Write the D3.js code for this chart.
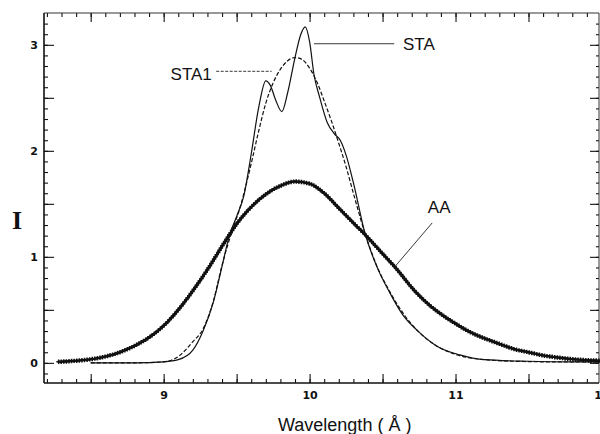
<!DOCTYPE html>
<html>
<head>
<meta charset="utf-8">
<script src="https://cdn.jsdelivr.net/npm/d3@7"></script>
<style>
  body { margin: 0; background: #fff; }
  svg { display: block; }
</style>
</head>
<body>
<div id="chart"></div>
<script>
// values (wavelength in Å, intensity I)
const aaData = [
  [8.28, 0.01], [8.4, 0.02], [8.55, 0.045], [8.7, 0.1], [8.8, 0.16], [8.9, 0.24],
  [9.0, 0.35], [9.1, 0.5], [9.2, 0.68], [9.3, 0.88], [9.4, 1.1], [9.47, 1.25],
  [9.5, 1.31], [9.6, 1.47], [9.7, 1.59], [9.8, 1.67], [9.9, 1.71], [10.0, 1.69],
  [10.1, 1.6], [10.2, 1.46], [10.3, 1.32], [10.38, 1.21], [10.5, 1.03], [10.6, 0.88],
  [10.7, 0.71], [10.8, 0.57], [10.9, 0.46], [11.0, 0.37], [11.1, 0.29], [11.2, 0.23],
  [11.3, 0.18], [11.4, 0.13], [11.5, 0.1], [11.6, 0.07], [11.7, 0.05], [11.8, 0.035],
  [11.9, 0.025], [12.0, 0.02]
];

const staData = [
  [8.5, 0.0], [8.8, 0.0], [9.0, 0.01], [9.1, 0.03], [9.2, 0.12], [9.27, 0.3],
  [9.34, 0.57], [9.4, 0.91], [9.45, 1.2], [9.5, 1.38], [9.55, 1.58], [9.6, 1.97],
  [9.65, 2.4], [9.7, 2.66], [9.73, 2.62], [9.77, 2.47], [9.81, 2.37], [9.85, 2.55],
  [9.9, 2.88], [9.94, 3.1], [9.97, 3.17], [10.0, 3.03], [10.03, 2.72], [10.07, 2.5],
  [10.12, 2.27], [10.17, 2.16], [10.21, 2.1], [10.25, 1.96], [10.3, 1.7], [10.38, 1.22],
  [10.46, 0.91], [10.55, 0.66], [10.64, 0.45], [10.75, 0.29], [10.87, 0.16], [11.03, 0.075],
  [11.2, 0.03], [11.5, 0.015], [11.8, 0.01], [12.0, 0.01]
];

const sta1Data = [
  [8.5, 0.0], [8.8, 0.0], [9.0, 0.01], [9.1, 0.06], [9.2, 0.2], [9.27, 0.32],
  [9.34, 0.58], [9.4, 0.92], [9.47, 1.25], [9.52, 1.45], [9.6, 1.88], [9.65, 2.18],
  [9.7, 2.45], [9.75, 2.64], [9.8, 2.77], [9.85, 2.85], [9.9, 2.88], [9.95, 2.86],
  [10.0, 2.78], [10.05, 2.65], [10.1, 2.47], [10.15, 2.28], [10.2, 2.07], [10.25, 1.85],
  [10.3, 1.6], [10.38, 1.22], [10.45, 0.95], [10.55, 0.67], [10.65, 0.45], [10.75, 0.29],
  [10.87, 0.16], [11.0, 0.08], [11.2, 0.03], [11.5, 0.012], [11.8, 0.008], [12.0, 0.008]
];

const xTickLabels = [9, 10, 11, 12];
const yTickLabels = [0, 1, 2, 3];

// curve labels: text position and leader line, in data units
const seriesLabels = [
  { text: "STA",  x: 10.64, y: 2.95, anchor: "start", line: [[10.03, 3.01], [10.58, 3.01]], dash: null },
  { text: "STA1", x: 9.33,  y: 2.67, anchor: "end",   line: [[9.36, 2.75], [9.74, 2.75]], dash: "3 1.5" },
  { text: "AA",   x: 10.81, y: 1.41, anchor: "start", line: [[10.84, 1.32], [10.58, 0.9]], dash: null }
];

const width = 600, height = 434;

const svg = d3.select("#chart")
  .append("svg")
  .attr("width", width)
  .attr("height", height);

const xScale = d3.scaleLinear()
  .domain([8.18, 11.99])
  .range([44, 600]);

const yScale = d3.scaleLinear()
  .domain([-0.19, 3.3])
  .range([383, 13]);

const x0 = xScale.range()[0], x1 = xScale.range()[1] - 1;
const y0 = yScale.range()[1], y1 = yScale.range()[0];

// ticks every 0.1, longer every 0.5
const xMinor = d3.range(82, 121).map(d => d / 10);
const xMajor = d3.range(17, 25).map(d => d / 2);
const yMinor = d3.range(-1, 33).map(d => d / 10);
const yMajor = d3.range(0, 7).map(d => d / 2);

function styleAxis(sel) {
  sel.select(".domain").remove();
  sel.selectAll(".tick line").attr("stroke", "#111").attr("stroke-width", 1.1);
}

svg.append("g").attr("transform", `translate(0,${y1})`)
  .call(d3.axisBottom(xScale).tickValues(xMinor).tickSize(-4).tickFormat(""))
  .call(styleAxis);
svg.append("g").attr("transform", `translate(0,${y1})`)
  .call(d3.axisBottom(xScale).tickValues(xMajor).tickSize(-9).tickPadding(8)
    .tickFormat(d => xTickLabels.includes(d) ? d : ""))
  .call(styleAxis)
  .selectAll("text")
  .style("font-family", "DejaVu Sans")
  .style("font-weight", "bold")
  .style("font-size", "11px")
  .attr("fill", "#111");

svg.append("g").attr("transform", `translate(0,${y0})`)
  .call(d3.axisTop(xScale).tickValues(xMinor).tickSize(-4).tickFormat(""))
  .call(styleAxis);
svg.append("g").attr("transform", `translate(0,${y0})`)
  .call(d3.axisTop(xScale).tickValues(xMajor).tickSize(-9).tickFormat(""))
  .call(styleAxis);

svg.append("g").attr("transform", `translate(${x0},0)`)
  .call(d3.axisLeft(yScale).tickValues(yMinor).tickSize(-4).tickFormat(""))
  .call(styleAxis);
svg.append("g").attr("transform", `translate(${x0},0)`)
  .call(d3.axisLeft(yScale).tickValues(yMajor).tickSize(-10).tickPadding(6)
    .tickFormat(d => yTickLabels.includes(d) ? d : ""))
  .call(styleAxis)
  .selectAll("text")
  .style("font-family", "DejaVu Sans")
  .style("font-weight", "bold")
  .style("font-size", "11px")
  .attr("fill", "#111");

svg.append("g").attr("transform", `translate(${x1},0)`)
  .call(d3.axisRight(yScale).tickValues(yMinor).tickSize(-3).tickFormat(""))
  .call(styleAxis);
svg.append("g").attr("transform", `translate(${x1},0)`)
  .call(d3.axisRight(yScale).tickValues(yMajor).tickSize(-9).tickFormat(""))
  .call(styleAxis);

// frame
svg.append("line").attr("x1", x0).attr("x2", x0).attr("y1", y0).attr("y2", y1)
  .attr("stroke", "#111").attr("stroke-width", 1.6);
svg.append("line").attr("x1", x0).attr("x2", x1).attr("y1", y1).attr("y2", y1)
  .attr("stroke", "#111").attr("stroke-width", 1.3);
svg.append("line").attr("x1", x0).attr("x2", x1).attr("y1", y0).attr("y2", y0)
  .attr("stroke", "#333").attr("stroke-width", 1);
svg.append("line").attr("x1", x1).attr("x2", x1).attr("y1", y0).attr("y2", y1)
  .attr("stroke", "#333").attr("stroke-width", 1);

const line = d3.line()
  .x(d => xScale(d[0]))
  .y(d => yScale(d[1]))
  .curve(d3.curveMonotoneX);

// AA: heavy line with crosses along it
const aaPath = svg.append("path")
  .datum(aaData)
  .attr("d", line)
  .attr("fill", "none")
  .attr("stroke", "#111")
  .attr("stroke-width", 2.4);

const aaNode = aaPath.node();
const aaLen = aaNode.getTotalLength();
const marks = d3.range(0, aaLen, 2.6).map(l => aaNode.getPointAtLength(l));
svg.append("g").selectAll("path")
  .data(marks)
  .enter()
  .append("path")
  .attr("d", d3.symbol().type(d3.symbolCross).size(11))
  .attr("fill", "#111")
  .attr("transform", d => `translate(${d.x},${d.y})`);

svg.append("path")
  .datum(sta1Data)
  .attr("d", line)
  .attr("fill", "none")
  .attr("stroke", "#111")
  .attr("stroke-width", 1.2)
  .attr("stroke-dasharray", "4 2");

svg.append("path")
  .datum(staData)
  .attr("d", line)
  .attr("fill", "none")
  .attr("stroke", "#111")
  .attr("stroke-width", 1.2);

// labels and leaders
seriesLabels.forEach(s => {
  svg.append("line")
    .attr("x1", xScale(s.line[0][0])).attr("y1", yScale(s.line[0][1]))
    .attr("x2", xScale(s.line[1][0])).attr("y2", yScale(s.line[1][1]))
    .attr("stroke", "#222")
    .attr("stroke-width", 0.9)
    .attr("stroke-dasharray", s.dash);
  svg.append("text")
    .attr("x", xScale(s.x))
    .attr("y", yScale(s.y))
    .attr("text-anchor", s.anchor)
    .style("font-family", "Liberation Sans")
    .style("font-size", "17px")
    .attr("fill", "#111")
    .text(s.text);
});

// axis titles
svg.append("text")
  .attr("x", 17)
  .attr("y", 229)
  .attr("text-anchor", "middle")
  .style("font-family", "Liberation Serif")
  .style("font-weight", "bold")
  .style("font-size", "26px")
  .attr("fill", "#111")
  .text("I");

svg.append("text")
  .attr("x", 278)
  .attr("y", 431)
  .style("font-family", "Liberation Sans")
  .style("font-size", "18px")
  .attr("fill", "#111")
  .text("Wavelength ( Å )");
</script>
</body>
</html>
